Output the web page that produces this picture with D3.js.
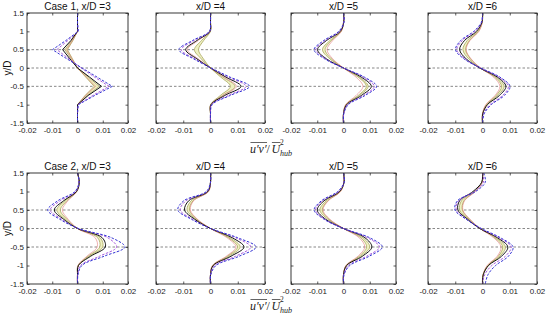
<!DOCTYPE html>
<html lang="en">
<head>
    <meta charset="UTF-8">
    <title>Reynolds shear stress profiles</title>
    <script src="https://cdnjs.cloudflare.com/ajax/libs/d3/7.8.5/d3.min.js"></script>
    <style>
        body { margin: 0; padding: 0; background: #ffffff; font-family: "Liberation Sans", Arial, sans-serif; }
        .tick text { font-family: "Liberation Sans", Arial, sans-serif; font-size: 8px; fill: #222; }
        .tick line { stroke: #333; stroke-width: 0.8; }
    </style>
</head>
<body>
<script>
    // ---- data ----
    const panelTitles = ["Case 1, x/D =3", "x/D =4", "x/D =5", "x/D =6",
                         "Case 2, x/D =3", "x/D =4", "x/D =5", "x/D =6"];
    const xTicks = [-0.02, -0.01, 0, 0.01, 0.02];
    const yTicks = [-1.5, -1, -0.5, 0, 0.5, 1, 1.5];
    const refLines = [0.5, 0, -0.5];
    const yLevels = [1.5, 1.25, 1.0, 0.75, 0.5, 0.25, 0, -0.25, -0.5, -0.75, -1.0, -1.25, -1.5];

    const blackLine = [
        [0, 0, 0, -0.0026, -0.0059, -0.0030, 0, 0.0048, 0.0095, 0.0042, 0, 0, 0],
        [0, 0, -0.0002, -0.0050, -0.0091, -0.0050, 0, 0.0057, 0.0112, 0.0052, 0.0002, 0, 0],
        [0, 0.0001, -0.0012, -0.0065, -0.0099, -0.0065, 0, 0.0068, 0.0106, 0.0068, 0.0012, 0, 0],
        [0, -0.0002, -0.0022, -0.0066, -0.0084, -0.0060, -0.0010, 0.0055, 0.0086, 0.0062, 0.0018, 0.0001, 0],
        [0, 0.0007, -0.0004, -0.0055, -0.0092, -0.0055, 0, 0.0098, 0.0110, 0.0052, 0.0004, 0, 0],
        [0, 0, -0.0010, -0.0080, -0.0095, -0.0058, 0, 0.0080, 0.0123, 0.0075, 0.0010, 0, 0],
        [0, 0.0002, -0.0015, -0.0074, -0.0100, -0.0068, 0, 0.0082, 0.0108, 0.0072, 0.0012, 0, 0],
        [0, -0.0003, -0.0035, -0.0084, -0.0090, -0.0055, -0.0010, 0.0055, 0.0093, 0.0070, 0.0022, 0.0003, 0]
    ];
    const blueDashed = [
        [0, 0, 0.0003, -0.0046, -0.0099, -0.0042, 0.0018, 0.0078, 0.0138, 0.0068, 0.0003, 0, 0],
        [0, 0, -0.0004, -0.0066, -0.0116, -0.0062, 0.0002, 0.0072, 0.0143, 0.0072, 0.0006, 0, 0],
        [0, 0.0002, -0.0018, -0.0075, -0.0112, -0.0072, 0, 0.0080, 0.0126, 0.0082, 0.0018, 0.0001, 0],
        [0, -0.0004, -0.0032, -0.0080, -0.0099, -0.0068, -0.0006, 0.0064, 0.0101, 0.0080, 0.0032, 0.0006, 0],
        [0, 0.0006, -0.0010, -0.0078, -0.0118, -0.0070, 0.0004, 0.0135, 0.0188, 0.0105, 0.0017, 0.0002, 0],
        [0, 0, -0.0015, -0.0098, -0.0120, -0.0070, 0, 0.0100, 0.0167, 0.0105, 0.0020, 0.0001, 0],
        [0, 0.0003, -0.0022, -0.0084, -0.0112, -0.0074, 0, 0.0100, 0.0148, 0.0098, 0.0024, 0.0002, 0],
        [0.0005, 0.0010, -0.0025, -0.0092, -0.0101, -0.0060, -0.0004, 0.0066, 0.0112, 0.0095, 0.0048, 0.0020, 0.0010]
    ];
    const violetDashed = [
        [0, 0, 0.0002, -0.0038, -0.0082, -0.0034, 0.0015, 0.0068, 0.0125, 0.0060, 0.0002, 0, 0],
        [0, 0, -0.0003, -0.0060, -0.0107, -0.0057, 0.0001, 0.0066, 0.0130, 0.0065, 0.0004, 0, 0],
        [0, 0.0001, -0.0015, -0.0070, -0.0105, -0.0068, 0, 0.0075, 0.0117, 0.0076, 0.0015, 0.0001, 0],
        [0, -0.0003, -0.0027, -0.0074, -0.0094, -0.0064, -0.0008, 0.0060, 0.0095, 0.0074, 0.0027, 0.0004, 0],
        [0, 0.0006, -0.0007, -0.0068, -0.0108, -0.0062, 0.0002, 0.0120, 0.0155, 0.0087, 0.0012, 0.0001, 0],
        [0, 0, -0.0012, -0.0090, -0.0111, -0.0065, 0, 0.0092, 0.0148, 0.0092, 0.0015, 0, 0],
        [0, 0.0002, -0.0018, -0.0080, -0.0106, -0.0071, 0, 0.0092, 0.0137, 0.0088, 0.0019, 0.0001, 0],
        [0, 0.0003, -0.0030, -0.0088, -0.0096, -0.0058, -0.0007, 0.0060, 0.0105, 0.0084, 0.0034, 0.0008, 0]
    ];
    const bandInner = [
        [0, 0, 0, -0.0018, -0.0040, -0.0020, 0, 0.0033, 0.0066, 0.0030, 0, 0, 0],
        [0, 0, 0, -0.0025, -0.0044, -0.0026, 0, 0.0038, 0.0073, 0.0036, 0, 0, 0],
        [0, 0, -0.0009, -0.0046, -0.0070, -0.0046, 0, 0.0056, 0.0087, 0.0056, 0.0009, 0, 0],
        [0, -0.0001, -0.0015, -0.0048, -0.0062, -0.0044, -0.0008, 0.0045, 0.0070, 0.0050, 0.0014, 0, 0],
        [0, 0.0006, -0.0003, -0.0042, -0.0068, -0.0042, 0, 0.0080, 0.0088, 0.0042, 0.0002, 0, 0],
        [0, 0, -0.0008, -0.0064, -0.0077, -0.0050, 0, 0.0066, 0.0099, 0.0062, 0.0008, 0, 0],
        [0, 0.0002, -0.0012, -0.0060, -0.0081, -0.0055, 0, 0.0066, 0.0088, 0.0060, 0.0010, 0, 0],
        [0, -0.0002, -0.0028, -0.0068, -0.0074, -0.0048, -0.0009, 0.0045, 0.0074, 0.0058, 0.0019, 0.0002, 0]
    ];
    const bandOuter = [
        [0, 0, 0, -0.0023, -0.0050, -0.0025, 0, 0.0043, 0.0086, 0.0038, 0, 0, 0],
        [0, 0, -0.0001, -0.0033, -0.0059, -0.0034, 0, 0.0046, 0.0090, 0.0044, 0.0001, 0, 0],
        [0, 0, -0.0010, -0.0052, -0.0080, -0.0052, 0, 0.0061, 0.0094, 0.0061, 0.0010, 0, 0],
        [0, -0.0001, -0.0018, -0.0056, -0.0072, -0.0051, -0.0009, 0.0050, 0.0079, 0.0056, 0.0016, 0.0001, 0],
        [0, 0.0007, -0.0004, -0.0050, -0.0082, -0.0050, 0, 0.0090, 0.0100, 0.0047, 0.0003, 0, 0],
        [0, 0, -0.0009, -0.0071, -0.0086, -0.0054, 0, 0.0072, 0.0109, 0.0068, 0.0009, 0, 0],
        [0, 0.0002, -0.0013, -0.0066, -0.0090, -0.0060, 0, 0.0074, 0.0100, 0.0066, 0.0011, 0, 0],
        [0, -0.0002, -0.0031, -0.0077, -0.0084, -0.0052, -0.0010, 0.0050, 0.0084, 0.0064, 0.0021, 0.0002, 0]
    ];
    const redLine = [
        [0, 0, 0, -0.0020, -0.0044, -0.0022, 0, 0.0036, 0.0072, 0.0032, 0, 0, 0],
        [0, 0, -0.0002, -0.0045, -0.0085, -0.0045, 0, 0.0050, 0.0095, 0.0046, 0.0001, 0, 0],
        [0, 0, -0.0008, -0.0041, -0.0063, -0.0041, 0, 0.0048, 0.0074, 0.0048, 0.0008, 0, 0],
        [0, -0.0001, -0.0013, -0.0046, -0.0060, -0.0042, -0.0007, 0.0041, 0.0064, 0.0046, 0.0012, 0, 0],
        [0, 0.0006, -0.0003, -0.0038, -0.0060, -0.0037, 0, 0.0070, 0.0078, 0.0037, 0.0002, 0, 0],
        [0, 0, -0.0007, -0.0062, -0.0074, -0.0048, 0, 0.0061, 0.0093, 0.0058, 0.0007, 0, 0],
        [0, 0.0001, -0.0011, -0.0058, -0.0078, -0.0052, 0, 0.0060, 0.0081, 0.0055, 0.0009, 0, 0],
        [0, -0.0001, -0.0026, -0.0066, -0.0072, -0.0046, -0.0009, 0.0041, 0.0068, 0.0054, 0.0017, 0.0002, 0]
    ];

    // ---- layout ----
    const width = 550, height = 322;
    const colLeft = [27, 156, 291, 428];
    const colRight = [128, 265, 396, 537];
    const rowTop = [13, 173];
    const rowBottom = [123, 284];

    const svg = d3.select("body").append("svg")
        .attr("width", width)
        .attr("height", height);

    const fmt = d => String(d);

    panelTitles.forEach((title, i) => {
        const row = Math.floor(i / 4), col = i % 4;
        const left = colLeft[col], top = rowTop[row];
        const w = colRight[col] - left, h = rowBottom[row] - top;

        const x = d3.scaleLinear().domain([-0.02, 0.02]).range([0, w]);
        const y = d3.scaleLinear().domain([-1.5, 1.5]).range([h, 0]);

        const g = svg.append("g").attr("transform", `translate(${left},${top})`);

        g.append("clipPath").attr("id", "clip" + i)
            .append("rect").attr("width", w).attr("height", h);

        const plot = g.append("g").attr("clip-path", `url(#clip${i})`);

        // reference lines
        plot.selectAll(".ref").data(refLines).join("line")
            .attr("x1", 0).attr("x2", w)
            .attr("y1", d => y(d)).attr("y2", d => y(d))
            .attr("stroke", "#555")
            .attr("stroke-width", 0.7)
            .attr("stroke-dasharray", "2.5,2");

        // case 1 at x/D=3 is drawn with straight segments, the rest are smooth
        const curve = i === 0 ? d3.curveLinear : d3.curveCatmullRom;
        const pts = arr => arr.map((v, k) => [v, yLevels[k]]);
        const line = d3.line().x(d => x(d[0])).y(d => y(d[1])).curve(curve);

        const bandPts = yLevels.map((yy, k) => ({ a: bandInner[i][k], b: bandOuter[i][k], y: yy }));
        const area = d3.area()
            .y(d => y(d.y))
            .x0(d => x(d.a))
            .x1(d => x(d.b))
            .curve(curve);

        plot.append("path").datum(bandPts)
            .attr("d", area)
            .attr("fill", "#eef0c2")
            .attr("stroke", "none");

        [bandInner[i], bandOuter[i]].forEach(arr => {
            plot.append("path").datum(pts(arr))
                .attr("d", line)
                .attr("fill", "none")
                .attr("stroke", "#aaa75e")
                .attr("stroke-width", 0.8);
        });

        plot.append("path").datum(pts(redLine[i]))
            .attr("d", line)
            .attr("fill", "none")
            .attr("stroke", "#e27a7a")
            .attr("stroke-width", 0.6);

        plot.append("path").datum(pts(blackLine[i]))
            .attr("d", line)
            .attr("fill", "none")
            .attr("stroke", "#111")
            .attr("stroke-width", 1);

        plot.append("path").datum(pts(violetDashed[i]))
            .attr("d", line)
            .attr("fill", "none")
            .attr("stroke", "#a04ad8")
            .attr("stroke-width", 0.9)
            .attr("stroke-dasharray", "2.5,1.5");

        plot.append("path").datum(pts(blueDashed[i]))
            .attr("d", line)
            .attr("fill", "none")
            .attr("stroke", "#3434d4")
            .attr("stroke-width", 1)
            .attr("stroke-dasharray", "2.5,1.5");

        // axes with inward ticks
        g.append("g").attr("transform", `translate(0,${h})`)
            .call(d3.axisBottom(x).tickValues(xTicks).tickSize(-2.5).tickPadding(4.5).tickFormat(fmt))
            .call(s => s.select(".domain").remove());
        g.append("g")
            .call(d3.axisTop(x).tickValues(xTicks).tickSize(-2.5).tickFormat(""))
            .call(s => s.select(".domain").remove());
        g.append("g")
            .call(d3.axisLeft(y).tickValues(yTicks).tickSize(-2.5).tickPadding(3)
                .tickFormat(col === 0 ? fmt : ""))
            .call(s => s.select(".domain").remove())
            .call(s => s.selectAll(".tick text").attr("dy", "0.25em"));
        g.append("g").attr("transform", `translate(${w},0)`)
            .call(d3.axisRight(y).tickValues(yTicks).tickSize(-2.5).tickFormat(""))
            .call(s => s.select(".domain").remove());

        g.append("rect")
            .attr("width", w).attr("height", h)
            .attr("fill", "none")
            .attr("stroke", "#222")
            .attr("stroke-width", 0.9);

        g.append("text")
            .attr("x", w / 2).attr("y", -3)
            .attr("text-anchor", "middle")
            .style("font-size", "10px")
            .style("fill", "#111")
            .text(title);

        if (col === 0) {
            g.append("text")
                .attr("transform", `translate(-16,${h / 2}) rotate(-90)`)
                .attr("text-anchor", "middle")
                .style("font-size", "10px")
                .style("fill", "#111")
                .text("y/D");
        }
    });

    // x-axis label: overline(u'v') / overline(U)^2_hub
    function xLabel(cx, baseline) {
        const lg = svg.append("g");
        const serif = "'Liberation Serif', 'DejaVu Serif', serif";
        let cur = 0;
        const add = (txt, size, italic, dy) => {
            const t = lg.append("text")
                .attr("x", cur).attr("y", baseline + dy)
                .style("font-family", serif)
                .style("font-size", size + "px")
                .style("font-style", italic ? "italic" : "normal")
                .style("fill", "#222")
                .text(txt);
            const len = t.node().getComputedTextLength();
            const part = { x: cur, len };
            cur += len;
            return part;
        };
        const uv = add("u\u2032v\u2032", 12, true, 0);
        add(" /", 12, false, 0);
        cur += 1.5;
        const U = add("U", 12, true, 0);
        const sub = add("hub", 8, true, 3);
        lg.append("text")
            .attr("x", sub.x).attr("y", baseline - 8)
            .style("font-family", serif).style("font-size", "7.5px")
            .style("fill", "#222").text("2");
        [[uv.x, uv.x + uv.len], [U.x, U.x + U.len]].forEach(b => {
            lg.append("line")
                .attr("x1", b[0] + 0.5).attr("x2", b[1] + 0.5)
                .attr("y1", baseline - 10.5).attr("y2", baseline - 10.5)
                .attr("stroke", "#222").attr("stroke-width", 0.7);
        });
        lg.attr("transform", `translate(${cx - cur / 2},0)`);
    }
    xLabel(271, 153);
    xLabel(271, 310);
</script>
</body>
</html>
